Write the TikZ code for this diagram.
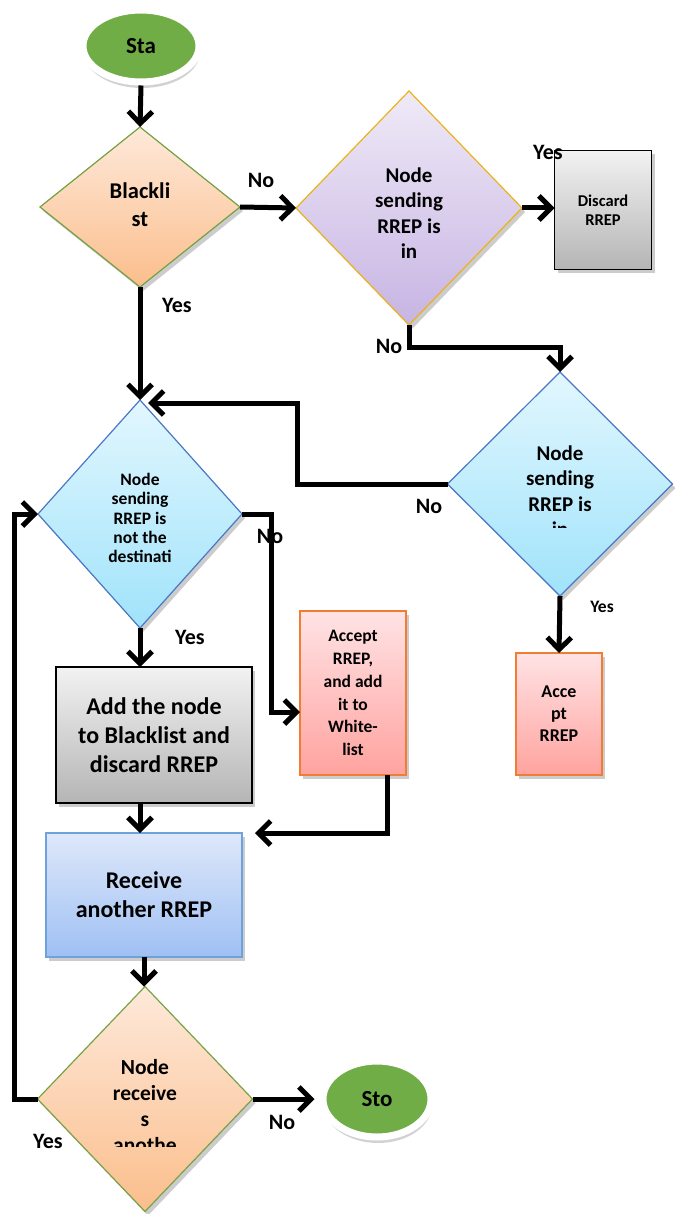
\documentclass[tikz,border=0pt]{standalone}
\usepackage{fontspec}
\setmainfont{Carlito}
\usetikzlibrary{shapes.geometric,arrows.meta,shadows}
\definecolor{termgreen}{HTML}{70AD47}
\definecolor{orgtop}{HTML}{FEE9DA}
\definecolor{orgbot}{HTML}{FBBE8C}
\definecolor{orgline}{HTML}{77A345}
\definecolor{putop}{HTML}{EFEAF7}
\definecolor{pubot}{HTML}{C7B4E3}
\definecolor{puline}{HTML}{EDB21A}
\definecolor{cytop}{HTML}{E2F7FE}
\definecolor{cybot}{HTML}{A0E3FB}
\definecolor{cyline}{HTML}{4A78C4}
\definecolor{greytop}{HTML}{F2F2F2}
\definecolor{greybot}{HTML}{B5B5B5}
\definecolor{pktop}{HTML}{FFE3E5}
\definecolor{pkbot}{HTML}{FFA39F}
\definecolor{pkline}{HTML}{F07D33}
\definecolor{bltop}{HTML}{DEE8FA}
\definecolor{blbot}{HTML}{9FC0F4}
\definecolor{blline}{HTML}{6FA2DC}
\begin{document}
\begin{tikzpicture}[x=1pt,y=-1pt,
    arr/.style={line width=5pt,-{Straight Barb[length=12pt,width=24pt]}},
    dia/.style={diamond,inner sep=0pt,outer sep=0pt,line width=1.2pt,
      drop shadow={shadow xshift=3pt,shadow yshift=-4pt,fill=black!40}},
    box/.style={rectangle,inner sep=0pt,outer sep=0pt,align=center,line width=1.8pt,
      drop shadow={shadow xshift=3pt,shadow yshift=-4pt,fill=black!40}},
    term/.style={ellipse,fill=termgreen,draw=white,line width=7pt,
      minimum width=116pt,minimum height=72pt,font=\fontsize{23}{26}\selectfont\bfseries,
      drop shadow={shadow xshift=1pt,shadow yshift=-6pt,fill=black!35}},
    txt/.style={align=center,inner sep=0pt},
    lbl/.style={inner sep=0pt,font=\fontsize{22}{26}\selectfont\bfseries}]
  \useasboundingbox (0,0) rectangle (674,1214);

  % start and first test
  \node[term] (start) at (141,46) {Sta};
  \node[dia,draw=orgline,top color=orgtop,bottom color=orgbot,minimum width=200pt,minimum height=160pt] (bl) at (140,207) {};
  \node[txt,font=\fontsize{22.5}{28}\selectfont\bfseries] (bltext) at (140,205) {Blackli\\st};

  % purple test and discard
  \node[dia,draw=puline,top color=putop,bottom color=pubot,minimum width=226pt,minimum height=234pt] (pu) at (409,208) {};
  \node[txt,font=\fontsize{21}{25.3}\selectfont\bfseries] (putext) at (409,213) {Node\\sending\\RREP is\\in};
  \node[box,draw=black,top color=greytop,bottom color=greybot,minimum width=97pt,minimum height=119pt,
    font=\fontsize{16.5}{19}\selectfont\bfseries] (dis) at (603,210) {Discard\\RREP};

  % right cyan test
  \node[dia,draw=cyline,top color=cytop,bottom color=cybot,minimum width=225pt,minimum height=224pt] (rc) at (560,484) {};
  \begin{scope}
    \clip (450,420) rectangle (670,527);
    \node[txt,font=\fontsize{21}{25.3}\selectfont\bfseries] (rctext) at (560,491) {Node\\sending\\RREP is\\in};
  \end{scope}
  \node[box,draw=pkline,top color=pktop,bottom color=pkbot,minimum width=86pt,minimum height=122pt,
    font=\fontsize{18}{22}\selectfont\bfseries] (acc2) at (559,714) {Acce\\pt\\RREP};

  % left cyan test
  \node[dia,draw=cyline,top color=cytop,bottom color=cybot,minimum width=204pt,minimum height=228pt] (lc) at (140,514) {};
  \node[txt,font=\fontsize{17.5}{19.3}\selectfont\bfseries] (lctext) at (140,518) {Node\\sending\\RREP is\\not the\\destinati};
  \node[box,draw=black,top color=greytop,bottom color=greybot,minimum width=196pt,minimum height=136pt,
    font=\fontsize{24}{29}\selectfont\bfseries] (add) at (154,735) {Add the node\\to Blacklist and\\discard RREP};
  \node[box,draw=pkline,top color=pktop,bottom color=pkbot,minimum width=106pt,minimum height=164pt,
    font=\fontsize{17.5}{22.8}\selectfont\bfseries] (acc) at (353,693) {Accept\\RREP,\\and add\\it to\\White-\\list};
  \node[box,draw=blline,top color=bltop,bottom color=blbot,minimum width=196pt,minimum height=124pt,
    font=\fontsize{24}{29}\selectfont\bfseries] (rcv) at (144,895) {Receive\\another RREP};

  % last test and stop
  \node[dia,draw=orgline,top color=orgtop,bottom color=orgbot,minimum width=215pt,minimum height=225pt] (nr) at (145,1099) {};
  \begin{scope}
    \clip (40,1030) rectangle (250,1146);
    \node[txt,font=\fontsize{21.5}{26}\selectfont\bfseries] (nrtext) at (145,1106) {Node\\receive\\s\\anothe};
  \end{scope}
  \node[term,minimum width=108pt,minimum height=76pt] (stop) at (377,1099) {Sto};

  % connectors
  \draw[arr] (start.south) -- (bl.north);
  \draw[arr] (bl.east) -- (pu.west);
  \draw[arr] (pu.east) -- (pu.east -| dis.west);
  \draw[arr] (pu.south) -- ++(0,22) -| (rc.north);
  \draw[arr] (rc.west) -- (297,484) -- (297,403) -- ([xshift=8pt]lc.north |- 0,403);
  \draw[arr] (bl.south) -- (lc.north);
  \draw[arr] (lc.east) -| (271,712) -- (acc.west |- 0,712);
  \draw[arr] (lc.south) -- (lc.south |- add.north);
  \draw[arr] ([xshift=34pt]acc.south) |- ([xshift=13pt]rcv.north east);
  \draw[arr] (lc.south |- add.south) -- (lc.south |- rcv.north);
  \draw[arr] (rcv.south) -- (rcv.south |- nr.north);
  \draw[arr] (nr.west) -- ++(-23,0) |- (lc.west);
  \draw[arr] (nr.east) -- ([xshift=-5pt]stop.west);
  \draw[arr] (rc.south) -- (acc2.north);

  % branch labels
  \node[lbl] (no1) at (261,180) {No};
  \node[lbl] (yes1) at (548,152) {Yes};
  \node[lbl] (no2) at (389,346) {No};
  \node[lbl] (no3) at (429,506) {No};
  \node[lbl] (yes2) at (177,305) {Yes};
  \node[lbl] (no4) at (270,536) {No};
  \node[lbl] (yes3) at (190,637) {Yes};
  \node[lbl,font=\fontsize{17.5}{20}\selectfont\bfseries] (yes4) at (602,607) {Yes};
  \node[lbl] (yes5) at (48,1141) {Yes};
  \node[lbl] (no5) at (282,1122) {No};
\end{tikzpicture}
\end{document}
